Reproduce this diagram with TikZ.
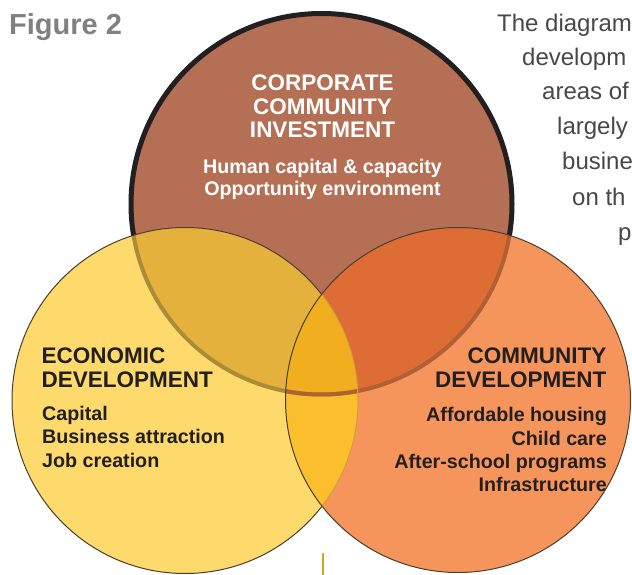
\documentclass[tikz,border=0pt]{standalone}
\usepackage{fontspec}
\setmainfont{Liberation Sans}
\definecolor{cB}{HTML}{B46F55}
\definecolor{cY}{HTML}{FDDA6B}
\definecolor{cO}{HTML}{F6955B}
\definecolor{cBY}{HTML}{E3B13C}
\definecolor{cBO}{HTML}{DE6C35}
\definecolor{cYO}{HTML}{FBBE2D}
\definecolor{cBYO}{HTML}{F1AF20}
\definecolor{ink}{HTML}{231F20}
\definecolor{edgec}{HTML}{4A3E2E}
\definecolor{figgray}{HTML}{808080}
\definecolor{paragray}{HTML}{474747}
\definecolor{goldline}{HTML}{D9A21C}
\begin{document}
\begin{tikzpicture}[x=1pt,y=-1pt,
  headW/.style={font=\bfseries\fontsize{22.5}{24}\selectfont, text=white, inner sep=0pt, anchor=base},
  bodyW/.style={font=\bfseries\fontsize{19.7}{22}\selectfont, text=white, inner sep=0pt, anchor=base},
  headL/.style={font=\bfseries\fontsize{22.5}{24}\selectfont, text=ink, inner sep=0pt, anchor=base west},
  bodyL/.style={font=\bfseries\fontsize{19.7}{22}\selectfont, text=ink, inner sep=0pt, anchor=base west},
  headR/.style={font=\bfseries\fontsize{22.5}{24}\selectfont, text=ink, inner sep=0pt, anchor=base east},
  bodyR/.style={font=\bfseries\fontsize{19.7}{22}\selectfont, text=ink, inner sep=0pt, anchor=base east},
  para/.style={font=\fontsize{24}{28}\selectfont, text=paragray, inner sep=0pt, anchor=base west},
  figlabel/.style={font=\bfseries\fontsize{29}{32}\selectfont, text=figgray, inner sep=0pt, anchor=base west},
  thinedge/.style={draw=edgec, line width=1pt},
  connector/.style={draw=goldline, line width=2.5pt}]
\useasboundingbox (0,0) rectangle (632,575);

% brown circle
\fill[cB] (321.5,204) circle[radius=190.5pt];
\draw[ink, line width=5pt] (321.5,204) circle[radius=190.5pt];

% yellow circle
\fill[cY] (185,400.5) circle[radius=173pt];
\begin{scope}
  \clip (185,400.5) circle[radius=173pt];
  \fill[cBY] (321.5,204) circle[radius=190.5pt];
  \draw[draw={rgb,255:red,170;green,140;blue,56}, line width=4pt] (321.5,204) circle[radius=190.5pt];
\end{scope}
\draw[thinedge] (185,400.5) circle[radius=173pt];

% orange circle
\fill[cO] (458,400) circle[radius=172.5pt];
\begin{scope}
  \clip (458,400) circle[radius=172.5pt];
  \fill[cYO] (185,400.5) circle[radius=173pt];
  \fill[cBO] (321.5,204) circle[radius=190.5pt];
  \begin{scope}
    \clip (185,400.5) circle[radius=173pt];
    \fill[cBYO] (321.5,204) circle[radius=190.5pt];
    \draw[draw={rgb,255:red,190;green,135;blue,45}, line width=4pt] (321.5,204) circle[radius=190.5pt];
  \end{scope}
  \draw[draw={rgb,255:red,176;green,96;blue,52}, line width=4pt] (321.5,204) circle[radius=190.5pt];
  \draw[draw={rgb,255:red,214;green,158;blue,58}, line width=1pt] (185,400.5) circle[radius=173pt];
\end{scope}
\draw[thinedge] (458,400) circle[radius=172.5pt];

% title and side paragraph
\node[figlabel] (fig) at (9,35) {Figure 2};
\node[para] (p1) at (497,32) {The diagram};
\node[para] (p2) at (522,66) {developm};
\node[para] (p3) at (542,100) {areas of};
\node[para] (p4) at (557,135) {largely};
\node[para] (p5) at (562,170) {busine};
\node[para] (p6) at (572,205) {on th};
\node[para] (p7) at (618,240) {p};

% top circle text
\node[headW] (t1) at (322.5,91) {CORPORATE};
\node[headW] (t2) at (322.5,115) {COMMUNITY};
\node[headW] (t3) at (322.5,138) {INVESTMENT};
\node[bodyW] (t4) at (322.5,173) {Human capital \& capacity};
\node[bodyW] (t5) at (322.5,196) {Opportunity environment};

% left circle text
\node[headL] (l1) at (41.5,363) {ECONOMIC};
\node[headL] (l2) at (41.5,387) {DEVELOPMENT};
\node[bodyL] (l3) at (42,420.5) {Capital};
\node[bodyL] (l4) at (42,443.5) {Business attraction};
\node[bodyL] (l5) at (42,467) {Job creation};

% right circle text
\node[headR] (r1) at (606.5,363) {COMMUNITY};
\node[headR] (r2) at (606.5,387) {DEVELOPMENT};
\node[bodyR] (r3) at (607,421.5) {Affordable housing};
\node[bodyR] (r4) at (607,445) {Child care};
\node[bodyR] (r5) at (607,468.5) {After-school programs};
\node[bodyR] (r6) at (607,491.5) {Infrastructure};

% small vertical rule
\coordinate (lt) at (322.8,553);
\coordinate (lb) at (322.8,575);
\draw[connector] (lt) -- (lb);
\end{tikzpicture}
\end{document}
